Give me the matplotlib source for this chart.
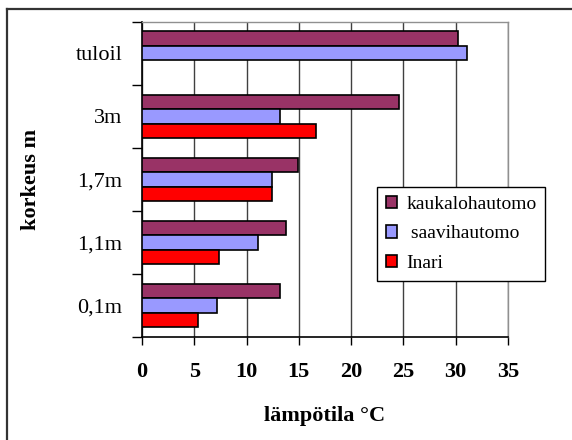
import numpy as np
import matplotlib
matplotlib.use("Agg")
import matplotlib.pyplot as plt
from matplotlib.lines import Line2D

# heights, bottom to top
categories = ["0,1m", "1,1m", "1,7m", "3m", "tuloil"]
kaukalohautomo = [13.2, 13.8, 14.9, 24.6, 30.2]
saavihautomo = [7.2, 11.1, 12.4, 13.2, 31.1]
inari = [5.4, 7.4, 12.4, 16.6, np.nan]

series_names = ["kaukalohautomo", " saavihautomo", "Inari"]
colors = ["#993366", "#9999FF", "#FF0000"]
x_ticks = [0, 5, 10, 15, 20, 25, 30, 35]

plt.rcParams["font.family"] = ["Liberation Serif", "DejaVu Serif"]

fig = plt.figure(figsize=(5.72, 4.40), dpi=100)
ax = fig.add_axes([142 / 572, 1 - 337 / 440, (508 - 142) / 572, (337 - 21.7) / 440])

y = np.arange(len(categories))
h = 0.23
all_series = [kaukalohautomo, saavihautomo, inari]
for i, (vals, name, c) in enumerate(zip(all_series, series_names, colors)):
    ax.barh(y + (1 - i) * h, vals, height=h, color=c, edgecolor="black",
            linewidth=1.2, label=name, zorder=3)

ax.set_xlim(0, 35)
ax.set_ylim(-0.5, len(categories) - 0.5)
ax.set_xticks(x_ticks)
ax.set_xticklabels([str(t) for t in x_ticks], fontsize=16, fontweight="bold")
ax.xaxis.grid(True, color="#404040", linewidth=1.0, zorder=0)

# category ticks between groups, labels at centres
ax.set_yticks(np.arange(len(categories) + 1) - 0.5)
ax.set_yticklabels([])
ax.set_yticks(y, minor=True)
ax.set_yticklabels(categories, minor=True, fontsize=16)
ax.tick_params(axis="y", which="minor", length=0, pad=14)
ax.tick_params(axis="y", which="major", length=7, width=1, direction="out")
ax.tick_params(axis="x", length=6, width=1, direction="out", pad=12)

for s in ["left", "bottom"]:
    ax.spines[s].set_color("black")
    ax.spines[s].set_linewidth(1.2)
for s in ["top", "right"]:
    ax.spines[s].set_color("#909090")
    ax.spines[s].set_linewidth(1.0)

ax.set_xlabel("lämpötila °C", fontsize=16, fontweight="bold", labelpad=17)
ax.set_ylabel("korkeus m", fontsize=16, fontweight="bold", labelpad=25)

leg = ax.legend(loc="upper left", bbox_to_anchor=((377 - 142) / 366, 1 - (187 - 21.7) / 315.3),
                borderaxespad=0, fontsize=14, frameon=True, fancybox=False, edgecolor="black",
                framealpha=1, handlelength=0.6, handleheight=0.6, labelspacing=0.65,
                borderpad=0.45, handletextpad=0.45)
leg.get_frame().set_linewidth(1.0)

# outer chart frame (only left and top edges visible)
fig.add_artist(Line2D([7 / 572, 7 / 572], [0, 1 - 9 / 440], color="#333333", linewidth=1.6))
fig.add_artist(Line2D([7 / 572, 1], [1 - 9 / 440, 1 - 9 / 440], color="#333333", linewidth=1.6))

fig.savefig("out.png", dpi=100)
